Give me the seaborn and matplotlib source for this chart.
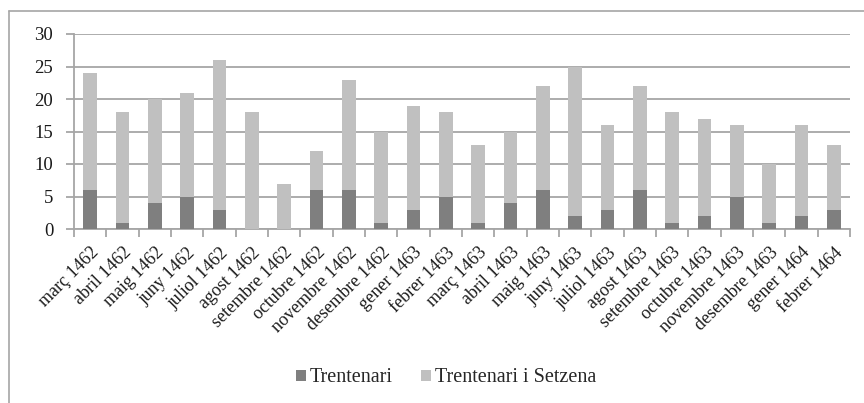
import numpy as np
import pandas as pd
import matplotlib
matplotlib.use("Agg")
import matplotlib.pyplot as plt
from matplotlib.lines import Line2D
from matplotlib.patches import Patch
import seaborn as sns

months = ["març 1462", "abril 1462", "maig 1462", "juny 1462", "juliol 1462",
          "agost 1462", "setembre 1462", "octubre 1462", "novembre 1462",
          "desembre 1462", "gener 1463", "febrer 1463", "març 1463", "abril 1463",
          "maig 1463", "juny 1463", "juliol 1463", "agost 1463", "setembre 1463",
          "octubre 1463", "novembre 1463", "desembre 1463", "gener 1464", "febrer 1464"]
trentenari = [6, 1, 4, 5, 3, 0, 0, 6, 6, 1, 3, 5, 1, 4, 6, 2, 3, 6, 1, 2, 5, 1, 2, 3]
trentenari_setzena = [18, 17, 16, 16, 23, 18, 7, 6, 17, 14, 16, 13, 12, 11, 16, 23,
                      13, 16, 17, 15, 11, 9, 14, 10]
y_ticks = [0, 5, 10, 15, 20, 25, 30]

dark = "#7f7f7f"
light = "#c0c0c0"
grid_c = "#a6a6a6"

sns.set_theme(style="white")
plt.rcParams["font.family"] = ["Liberation Serif", "DejaVu Serif"]

df = pd.DataFrame({
    "mes": months,
    "Trentenari": trentenari,
    "Trentenari i Setzena": trentenari_setzena,
})
# stacked: the light segment sits on top of the dark one
df["top"] = df["Trentenari"] + df["Trentenari i Setzena"]

fig = plt.figure(figsize=(8.64, 4.03), dpi=100)
ax = fig.add_axes([74 / 864, 1 - 229 / 403, (850 - 74) / 864, (229 - 34) / 403])

sns.barplot(data=df, x="mes", y="top", color=light, width=0.42,
            saturation=1, ax=ax, zorder=3, linewidth=0)
sns.barplot(data=df, x="mes", y="Trentenari", color=dark, width=0.42,
            saturation=1, ax=ax, zorder=4, linewidth=0)

ax.set_ylim(0, 30)
ax.set_xlim(-0.5, len(months) - 0.5)
ax.set_yticks(y_ticks)
ax.yaxis.grid(True, color=grid_c, linewidth=1.3, zorder=0)
ax.xaxis.grid(False)
ax.set_axisbelow(True)
ax.set_xlabel("")
ax.set_ylabel("")

for side in ["top", "right"]:
    ax.spines[side].set_visible(False)
for side in ["left", "bottom"]:
    ax.spines[side].set_color(grid_c)
    ax.spines[side].set_linewidth(1.3)

ax.tick_params(axis="y", which="major", length=6, width=1.3, color=grid_c,
               direction="out", labelsize=13.5, labelcolor="#1a1a1a", pad=9, left=True)
ax.set_xticks(np.arange(len(months)))
ax.set_xticklabels(months, rotation=45, ha="right", rotation_mode="anchor")
ax.tick_params(axis="x", which="major", length=0, labelsize=13,
               labelcolor="#1a1a1a", pad=11, bottom=True)
ax.set_xticks(np.arange(-0.5, len(months)), minor=True)
ax.tick_params(axis="x", which="minor", length=6, width=1.3, color=grid_c,
               direction="out", bottom=True)

handles = [Patch(facecolor=dark, edgecolor="none", label="Trentenari"),
           Patch(facecolor=light, edgecolor="none", label="Trentenari i Setzena")]
fig.legend(handles=handles, loc="center", bbox_to_anchor=(446 / 864, 1 - 378 / 403),
           ncol=2, frameon=False, fontsize=14.5, handlelength=0.5,
           handleheight=0.5, handletextpad=0.2, columnspacing=1.4,
           borderpad=0, borderaxespad=0)

# outer frame lines along top and left
fig.add_artist(Line2D([9 / 864, 9 / 864], [0, 1 - 11 / 403], transform=fig.transFigure,
                      color="#a6a6a6", linewidth=1.2))
fig.add_artist(Line2D([9 / 864, 1], [1 - 11 / 403, 1 - 11 / 403], transform=fig.transFigure,
                      color="#a6a6a6", linewidth=1.2))

fig.savefig("out.png", dpi=100)
